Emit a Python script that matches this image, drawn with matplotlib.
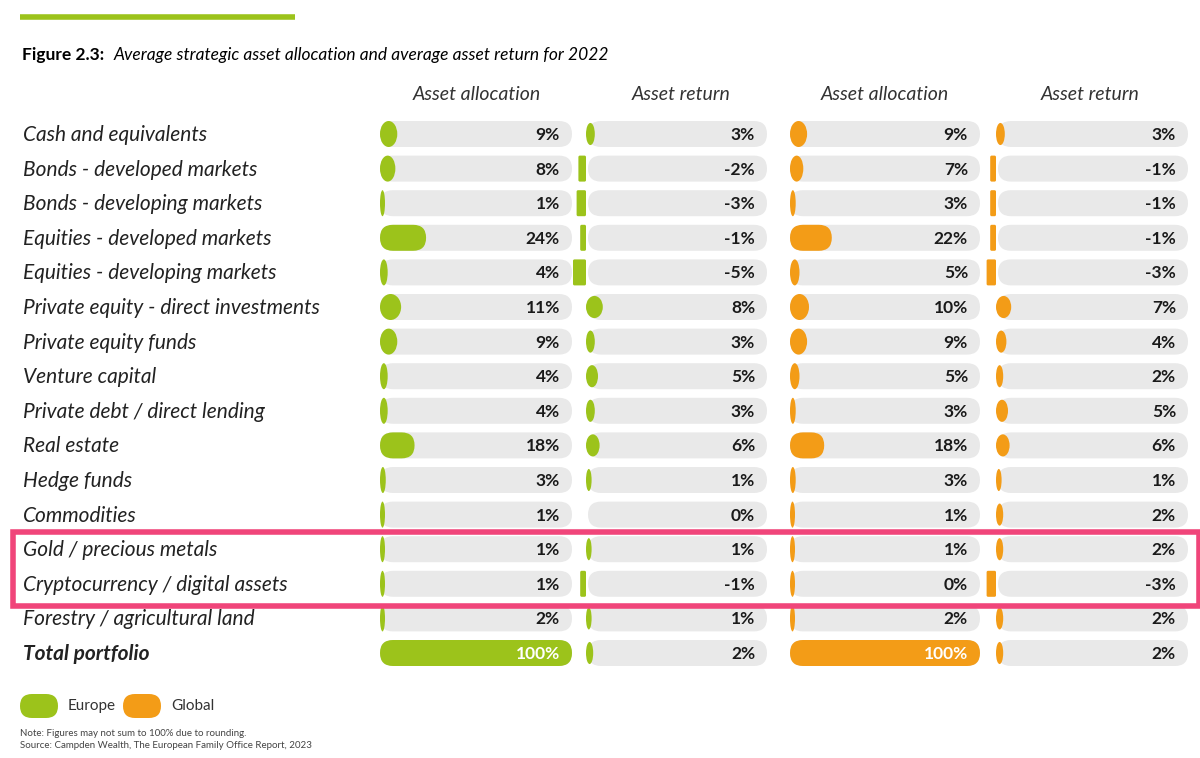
import matplotlib
matplotlib.use("Agg")
import matplotlib.pyplot as plt
from matplotlib.patches import FancyBboxPatch, Ellipse, Rectangle

plt.rcParams['font.family'] = ['Lato', 'DejaVu Sans']

# data
categories = ["Cash and equivalents", "Bonds - developed markets", "Bonds - developing markets",
              "Equities - developed markets", "Equities - developing markets",
              "Private equity - direct investments", "Private equity funds", "Venture capital",
              "Private debt / direct lending", "Real estate", "Hedge funds", "Commodities",
              "Gold / precious metals", "Cryptocurrency / digital assets",
              "Forestry / agricultural land", "Total portfolio"]
europe_alloc = [9, 8, 1, 24, 4, 11, 9, 4, 4, 18, 3, 1, 1, 1, 2, 100]
europe_return = [3, -2, -3, -1, -5, 8, 3, 5, 3, 6, 1, 0, 1, -1, 1, 2]
global_alloc = [9, 7, 3, 22, 5, 10, 9, 5, 3, 18, 3, 1, 1, 0, 2, 100]
global_return = [3, -1, -1, -1, -3, 7, 4, 2, 5, 6, 1, 2, 2, -3, 2, 2]
headers = ["Asset allocation", "Asset return", "Asset allocation", "Asset return"]

GREEN = "#9cc31b"
ORANGE = "#f39c17"
TRACK = "#e9e9e9"

fig = plt.figure(figsize=(12, 7.58), dpi=100)
ax = fig.add_axes([0, 0, 1, 1])
ax.set_xlim(0, 1200)
ax.set_ylim(758, 0)
ax.axis("off")


def pill(x0, yc, w, h, color, z=2):
    if w < h:
        ax.add_patch(Ellipse((x0 + w / 2, yc), w, h, color=color, lw=0, zorder=z))
    else:
        ax.add_patch(FancyBboxPatch((x0, yc - h / 2), w, h,
                                    boxstyle="round,pad=0,rounding_size=%f" % (h / 2 - 0.01),
                                    color=color, lw=0, zorder=z))


# columns: (track left, track right, values, colour, kind)
cols = [(380, 572, europe_alloc, GREEN, "alloc"),
        (588, 767, europe_return, GREEN, "ret"),
        (790, 980, global_alloc, ORANGE, "alloc"),
        (998, 1188, global_return, ORANGE, "ret")]
hx = [477, 681, 885, 1090]

ax.plot([20, 295], [17, 17], color=GREEN, lw=4, solid_capstyle="butt")
ax.text(22, 55, "Figure 2.3:", fontsize=12.5, fontweight="bold", va="center")
ax.text(114, 55, "Average strategic asset allocation and average asset return for 2022",
        fontsize=12.5, style="italic", va="center")
for x, h in zip(hx, headers):
    ax.text(x, 94, h, fontsize=14, style="italic", ha="center", va="center", color="#333333")

y0, dy, bh = 134, 34.6, 26
for i, cat in enumerate(categories):
    yc = y0 + i * dy
    last = i == len(categories) - 1
    ax.text(23, yc + 1, cat, fontsize=15, style="italic", va="center", color="#222222",
            fontweight="bold" if last else "normal")
    for left, right, vals, col, kind in cols:
        v = vals[i]
        pill(left, yc, right - left, bh, TRACK, z=1)
        if kind == "alloc":
            w = max(5, (right - left) * v / 100)
            pill(left, yc, w, bh, col)
        elif v < 0:
            w = 1 + 1.8 * abs(v)
            ax.add_patch(FancyBboxPatch((left - w - 3.5, yc - bh / 2 + 1.5), w, bh - 3,
                                        boxstyle="round,pad=1.5", color=col, lw=0, zorder=2))
        elif v > 0:
            w = 4 + 1.6 * v
            pill(left - 2, yc, w, bh * 0.85, col)
        white = kind == "alloc" and v == 100
        ax.text(right - 12, yc + 1, f"{v}%", fontsize=12.5, fontweight="bold", ha="right",
                va="center", color="white" if white else "#1a1a1a", zorder=3)

# highlight box around gold / crypto rows
ax.add_patch(Rectangle((13, 532), 1186, 74, fill=False, ec="#f0457a", lw=4, zorder=4))

# legend
pill(20, 706, 38, 24, GREEN)
ax.text(68, 706, "Europe", fontsize=11, va="center", color="#333333")
pill(123, 706, 38, 24, ORANGE)
ax.text(171, 706, "Global", fontsize=11, va="center", color="#333333")
ax.text(20, 733, "Note: Figures may not sum to 100% due to rounding.", fontsize=7, va="center", color="#444444")
ax.text(20, 746, "Source: Campden Wealth, The European Family Office Report, 2023", fontsize=7,
        va="center", color="#444444")

fig.savefig("out.png", dpi=100, facecolor="white")
